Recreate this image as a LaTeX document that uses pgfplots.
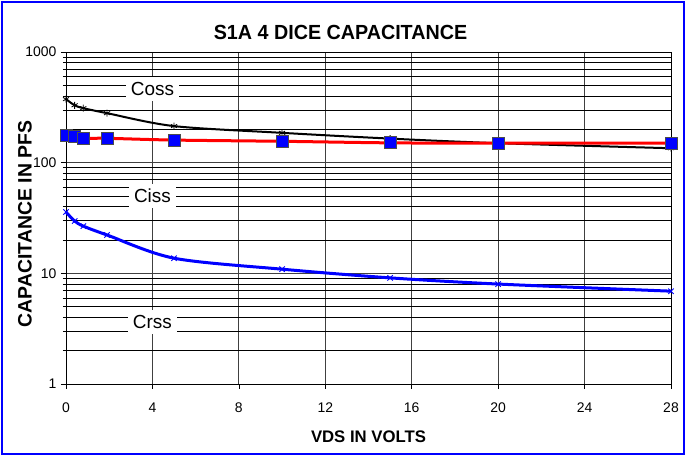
\documentclass[border=0pt]{standalone}
\usepackage{pgfplots}
\pgfplotsset{compat=1.18}
\usepackage{fontspec}
\setmainfont{Liberation Sans}
\begin{document}
\begin{tikzpicture}
\begin{axis}[
  at={(0,0)}, anchor=south west,
  scale only axis, width=605bp, height=332bp,
  xmin=0, xmax=28, ymin=1, ymax=1000, ymode=log,
  xtick={0,4,...,28}, ytick={1,10,100,1000},
  log ticks with fixed point,
  /pgf/number format/1000 sep={},
  /pgf/number format/assume math mode=true,
  tick label style={font=\fontsize{14}{14}\selectfont},
  xticklabel style={yshift=-10bp},
  yticklabel style={xshift=-1bp},
  tick align=outside, xtick pos=left, ytick pos=left,
  major tick length=5bp, minor tick length=3bp,
  grid=both,
  major grid style={black!75, line width=0.8bp},
  minor grid style={black, line width=0.7bp},
  axis line style={black, line width=0.8bp},
  xtick style={black, line width=0.7bp},
  ytick style={black, line width=0.7bp},
  title={\scalebox{0.965}[1]{S1A 4 DICE CAPACITANCE}},
  xlabel={VDS IN VOLTS},
  ylabel={CAPACITANCE IN PFS},
  every axis title/.style={at={(axis description cs:0.5,1)}, anchor=center, yshift=20bp, xshift=-28bp, font=\bfseries\fontsize{20.5}{20.5}\selectfont},
  every axis x label/.style={at={(axis description cs:0.5,0)}, anchor=center, yshift=-53bp, font=\bfseries\fontsize{16.8}{16.8}\selectfont},
  every axis y label/.style={at={(axis description cs:0,0.5)}, anchor=center, xshift=-41bp, yshift=-6bp, rotate=90, font=\bfseries\fontsize{19.5}{19.5}\selectfont},
  clip=false,
]
\addplot[black, line width=2bp, smooth, mark=asterisk, mark size=3.5bp, mark options={line width=0.8bp}] coordinates {
(0,375) (0.4,330) (0.8,311) (1.9,280) (5,214) (10,186) (15,165) (20,150) (28,135)};
\addplot[red, line width=3bp, smooth, mark=square*, mark size=6bp, mark options={fill=blue, draw=black!70, line width=0.8bp}] coordinates {
(0,176) (0.4,172) (0.8,166) (1.9,166) (5,160) (10,156) (15,151) (20,150) (28,150)};
\addplot[blue, line width=3bp, smooth, mark=x, mark size=3.8bp, mark options={line width=0.9bp}] coordinates {
(0,35.8) (0.4,29.7) (0.8,26.7) (1.9,22.2) (5,13.7) (10,10.9) (15,9.1) (20,8.0) (28,6.9)};
\node[fill=white, inner sep=5bp, font=\fontsize{19}{19}\selectfont] at (axis cs:4,462) {Coss};
\node[fill=white, inner sep=5bp, font=\fontsize{19}{19}\selectfont] at (axis cs:4,50) {Ciss};
\node[fill=white, inner sep=5bp, font=\fontsize{19}{19}\selectfont] at (axis cs:4,3.63) {Crss};
\end{axis}
\draw[blue, line width=2.8bp] (-64bp,-70bp) rectangle (618bp,382bp);
\pgfresetboundingbox
\useasboundingbox (-66bp,-72bp) rectangle (620bp,384bp);
\end{tikzpicture}
\end{document}
